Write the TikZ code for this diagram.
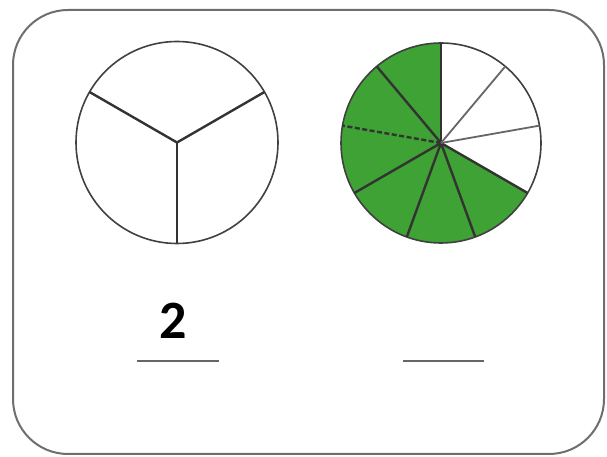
\documentclass[tikz,border=0pt]{standalone}
\usepackage{fontspec}
\newfontfamily\digitfont{Carlito}
\definecolor{pie}{RGB}{62,162,52}
\definecolor{frame}{RGB}{110,110,110}
\begin{document}
\begin{tikzpicture}[x=1pt,y=1pt,
  framebox/.style={draw=frame,line width=2pt,rounded corners=55pt},
  rim/.style={draw=black!75,line width=1.6pt},
  spoke/.style={draw=black!80,line width=2.4pt},
  lightspoke/.style={draw=black!60,line width=1.8pt},
  blank/.style={draw=black!60,line width=2.8pt},
  numtext/.style={font=\digitfont\bfseries\fontsize{54}{60}\selectfont,inner sep=0pt}]
\useasboundingbox (0,0) rectangle (607,457);
\draw[framebox] (13,3) rectangle (604,447);
% left circle (thirds)
\coordinate (lc) at (177,314.5);
\draw[rim] (lc) circle[radius=101];
\foreach \a in {30,150,270} \draw[spoke] (lc) -- ++(\a:101);
% right circle (ninths)
\coordinate (rc) at (441,314);
\fill[pie] (rc) -- ++(90:100) arc[start angle=90,end angle=330,radius=100] -- cycle;
\draw[rim] (rc) circle[radius=100];
\foreach \a in {90,130,210,250,290,330} \draw[spoke] (rc) -- ++(\a:100);
\draw[spoke,dash pattern=on 5pt off 2.5pt] (rc) -- ++(170:100);
\foreach \a in {10,50} \draw[lightspoke] (rc) -- ++(\a:100);
% labels
\node[numtext] (num) at (173,136) {2};
\coordinate (la) at (137,96); \coordinate (lb) at (219,96);
\coordinate (ra) at (403,96); \coordinate (rb) at (484,96);
\draw[blank] (la) -- (lb);
\draw[blank] (ra) -- (rb);
\end{tikzpicture}
\end{document}
